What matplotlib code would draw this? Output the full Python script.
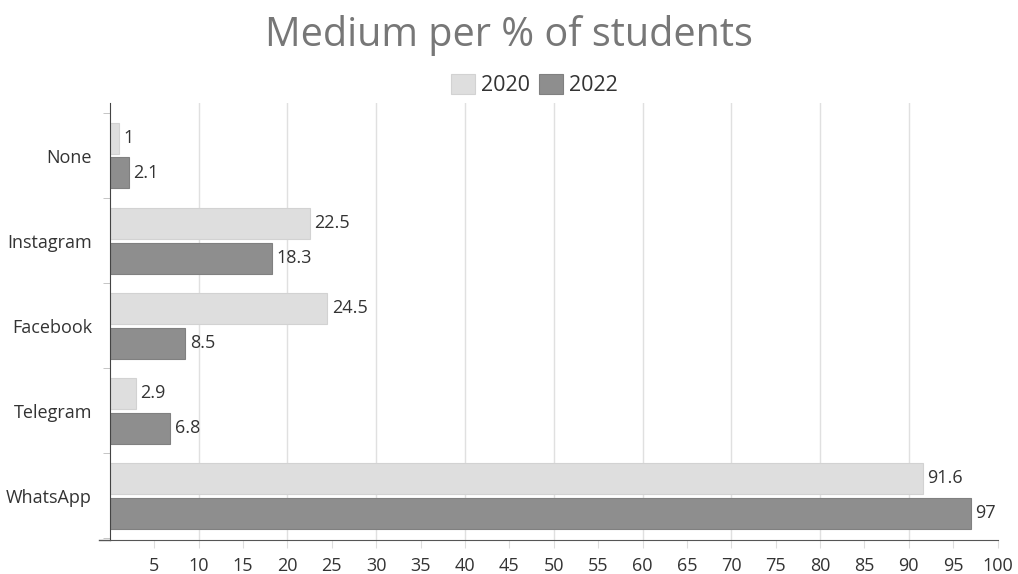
import numpy as np
import matplotlib.pyplot as plt

plt.rcParams['font.family'] = ['Open Sans', 'DejaVu Sans']

categories = ['None', 'Instagram', 'Facebook', 'Telegram', 'WhatsApp']
vals_2020 = [1, 22.5, 24.5, 2.9, 91.6]
vals_2022 = [2.1, 18.3, 8.5, 6.8, 97]
x_ticks = list(range(5, 101, 5))

c2020 = '#dedede'
c2022 = '#8e8e8e'
txt = '#333333'

fig = plt.figure(figsize=(10.18, 5.74), dpi=100)
ax = fig.add_axes([0.108, 0.059, 0.872, 0.762])

y = np.arange(len(categories))
h = 0.365
off = 0.205
b1 = ax.barh(y - off, vals_2020, height=h, color=c2020, edgecolor='#d2d2d2', linewidth=0.8, label='2020', zorder=2)
b2 = ax.barh(y + off, vals_2022, height=h, color=c2022, edgecolor='#808080', linewidth=0.8, label='2022', zorder=2)

for bars, vals in ((b1, vals_2020), (b2, vals_2022)):
    for r, v in zip(bars, vals):
        ax.text(r.get_width() + 0.5, r.get_y() + r.get_height() / 2, f'{v:g}',
                va='center', ha='left', fontsize=13, color=txt)

ax.set_xlim(0, 100)
ax.set_ylim(4.52, -0.62)
ax.set_yticks(y)
ax.set_yticklabels(categories, fontsize=13, color=txt)
ax.set_yticks(np.arange(-0.5, 4.6, 1), minor=True)
ax.tick_params(axis='y', which='major', length=0, pad=13)
ax.tick_params(axis='y', which='minor', length=5, color='#bbbbbb', direction='out')
ax.set_xticks(x_ticks)
ax.set_xticklabels([str(t) for t in x_ticks], fontsize=13, color=txt)
ax.tick_params(axis='x', length=6, color='#dddddd', pad=6)

for g in range(10, 100, 10):
    ax.axvline(g, color='#e0e0e0', linewidth=1, zorder=0)
# axis line runs a bit left of the left spine
ax.plot([-1.2, 0], [4.52, 4.52], color='#555555', linewidth=1, clip_on=False)

for s in ('top', 'right'):
    ax.spines[s].set_visible(False)
ax.spines['left'].set_color('#444444')
ax.spines['bottom'].set_color('#555555')

fig.text(0.5, 0.938, 'Medium per % of students', ha='center', va='center', fontsize=28.5, color='#777777')
fig.legend(handles=[b1, b2], loc='center', bbox_to_anchor=(0.525, 0.852), ncol=2, frameon=False,
           fontsize=15.5, handlelength=1.1, handleheight=1.1, handletextpad=0.3, columnspacing=0.4,
           labelcolor='#333333')

fig.savefig('out.png', dpi=100)
